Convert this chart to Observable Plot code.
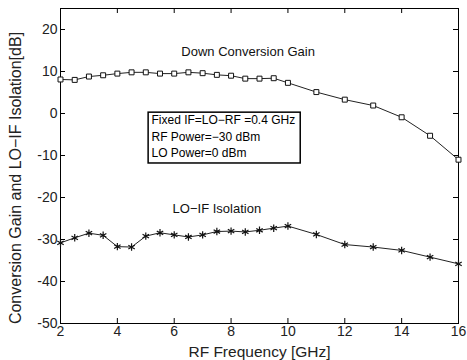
<!DOCTYPE html>
<html>
<head>
<meta charset="utf-8">
<script src="https://cdn.jsdelivr.net/npm/d3@7"></script>
<script src="https://cdn.jsdelivr.net/npm/@observablehq/plot@0.6"></script>
<style>
  body { margin: 0; background: #fff; }
  svg { font-family: "Liberation Sans", Arial, sans-serif; }
</style>
</head>
<body>
<div id="chart"></div>
<script>
const freqGHz = [2, 2.5, 3, 3.5, 4, 4.5, 5, 5.5, 6, 6.5, 7, 7.5, 8, 8.5, 9, 9.5, 10, 11, 12, 13, 14, 15, 16];
const gainDb = [8.1, 8.0, 8.8, 9.1, 9.5, 9.8, 9.8, 9.5, 9.5, 9.8, 9.6, 9.2, 9.0, 8.3, 8.3, 8.4, 7.3, 5.1, 3.3, 1.9, -0.9, -5.3, -11.0];
const isolationDb = [-30.8, -29.6, -28.5, -29.0, -31.7, -31.8, -29.2, -28.4, -28.9, -29.4, -28.9, -28.1, -28.0, -28.2, -27.8, -27.3, -26.8, -28.8, -31.2, -31.8, -32.6, -34.2, -35.8];
const xTicks = [2, 4, 6, 8, 10, 12, 14, 16];
const yTicks = [-50, -40, -30, -20, -10, 0, 10, 20];
const xLabel = "RF Frequency [GHz]";
const yLabel = "Conversion Gain and LO\u2212IF Isolation[dB]";
const boxLines = ["Fixed IF=LO\u2212RF =0.4 GHz", "RF Power=\u221230 dBm", "LO Power=0 dBm"];

const gain = freqGHz.map((f, i) => ({f, v: gainDb[i]}));
const iso = freqGHz.map((f, i) => ({f, v: isolationDb[i]}));

const W = 467, H = 360, mL = 60, mR = 9, mT = 8, mB = 37;
const pw = W - mL - mR, ph = H - mT - mB;
const tk = 5;

const chart = Plot.plot({
  width: W, height: H,
  marginLeft: mL, marginRight: mR, marginTop: mT, marginBottom: mB,
  style: {fontFamily: "Liberation Sans, Arial, sans-serif", fontSize: "14px", color: "#222", background: "#fff"},
  x: {domain: [2, 16], ticks: xTicks},
  y: {domain: [-50, 25], ticks: yTicks},
  marks: [
    Plot.axisX(xTicks, {tickSize: 0, tickPadding: 3, fontSize: 14, label: null, tickFormat: d => String(d)}),
    Plot.axisY(yTicks, {tickSize: 0, tickPadding: 3, fontSize: 14, label: null, tickFormat: d => d < 0 ? "-" + Math.abs(d) : String(d)}),
    Plot.text([xLabel], {frameAnchor: "bottom", lineAnchor: "middle", dy: 29, text: d => d, fontSize: 15.5, fill: "#222"}),
    Plot.text([yLabel], {frameAnchor: "left", textAnchor: "middle", lineAnchor: "middle", dx: -45, dy: 12, rotate: -90, text: d => d, fontSize: 16, fill: "#222"}),
    Plot.tickX(xTicks, {x: d => d, insetTop: ph - tk, stroke: "#000"}),
    Plot.tickX(xTicks, {x: d => d, insetBottom: ph - tk, stroke: "#000"}),
    Plot.tickY(yTicks, {y: d => d, insetRight: pw - tk, stroke: "#000"}),
    Plot.tickY(yTicks, {y: d => d, insetLeft: pw - tk, stroke: "#000"}),
    Plot.frame({stroke: "#000", strokeWidth: 1}),
    Plot.line(gain, {x: "f", y: "v", stroke: "#222", strokeWidth: 1}),
    Plot.dot(gain, {x: "f", y: "v", symbol: "square", r: 2.8, stroke: "#111", fill: "#fff", strokeWidth: 1}),
    Plot.line(iso, {x: "f", y: "v", stroke: "#222", strokeWidth: 1}),
    Plot.dot(iso, {x: "f", y: "v", symbol: "asterisk", r: 3.5, stroke: "#111", strokeWidth: 1.2}),
    Plot.text(["Down Conversion Gain"], {x: 8.6, y: 14.6, text: d => d, fontSize: 13, fill: "#111"}),
    Plot.text(["LO\u2212IF Isolation"], {x: 7.5, y: -22.6, text: d => d, fontSize: 13, fill: "#111"}),
    Plot.rect([0], {x1: 5.1, x2: 10.45, y1: 0.2, y2: -11.9, stroke: "#000", strokeWidth: 1.5, fill: "#fff"}),
    Plot.text(boxLines, {x: 5.2, y: (d, i) => [-1.7, -5.6, -9.4][i], text: d => d, textAnchor: "start", fontSize: 12, fill: "#000"})
  ]
});
document.getElementById("chart").appendChild(chart);
</script>
</body>
</html>
